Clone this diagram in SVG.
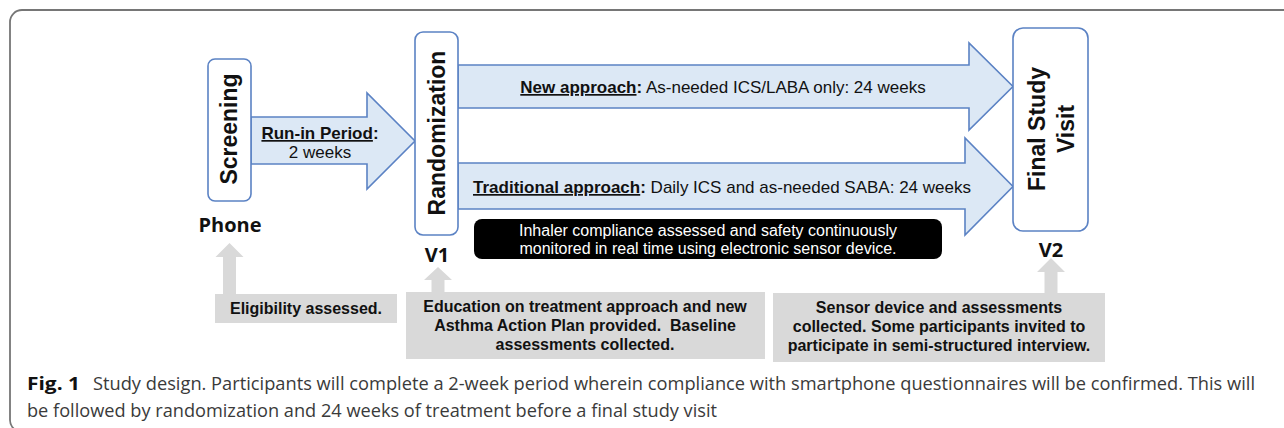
<svg xmlns="http://www.w3.org/2000/svg" width="1284" height="428" viewBox="0 0 1284 428">
  <style>
    .frame { fill: none; stroke: #767676; stroke-width: 1.8; }
    .stage { fill: #ffffff; stroke: #5b82c4; stroke-width: 1.6; }
    .flow { fill: #dce8f5; stroke: #5b82c4; stroke-width: 1.6; stroke-linejoin: miter; }
    .note { fill: #d9d9d9; }
    .lbl { font-family: "Liberation Sans", Arial, sans-serif; fill: #111111; }
    .b { font-weight: bold; }
    .big { font-size: 23px; font-weight: bold; }
    .arrowtxt { font-size: 17px; }
    .notetxt { font-size: 16px; font-weight: bold; }
    .visit { font-family: "Open Sans", "Liberation Sans", sans-serif; font-weight: bold; font-size: 20px; fill: #111111; }
    .cap { font-family: "Open Sans", "Liberation Sans", sans-serif; font-size: 18.5px; fill: #3a3a3a; }
    .u { text-decoration: underline; }
  </style>

  <!-- figure frame -->
  <rect class="frame" x="10" y="10" width="1292" height="422" rx="12"/>

  <!-- connectors: block arrows between stages -->
  <g id="connectors">
    <path id="arrow-runin" class="flow" d="M251,117 H367 V93 L415,141 L367,189 V164 H251 Z"/>
    <path id="arrow-new" class="flow" d="M458,65 H969 V43 L1013,86.5 L969,130 V108 H458 Z"/>
    <path id="arrow-traditional" class="flow" d="M458,163 H965 V138 L1013,186.5 L965,235 V209 H458 Z"/>
  </g>

  <!-- arrow labels -->
  <g id="label-runin" class="lbl arrowtxt" text-anchor="middle">
    <text x="320" y="139" class="b"><tspan class="u">Run-in Period</tspan>:</text>
    <text x="320" y="158">2 weeks</text>
  </g>
  <g id="label-new" class="lbl arrowtxt">
    <text x="723" y="93" text-anchor="middle"><tspan class="b u">New approach</tspan><tspan class="b">:</tspan> As-needed ICS/LABA only: 24 weeks</text>
  </g>
  <g id="label-traditional" class="lbl arrowtxt">
    <text x="722" y="193" text-anchor="middle"><tspan class="b u">Traditional approach</tspan><tspan class="b">:</tspan> Daily ICS and as-needed SABA: 24 weeks</text>
  </g>

  <!-- stage: screening -->
  <g id="node-screening">
    <rect class="stage" x="208" y="59" width="43" height="142" rx="7"/>
    <text class="lbl big" text-anchor="middle" transform="translate(237,129) rotate(-90)">Screening</text>
    <text class="visit" x="230" y="232" text-anchor="middle">Phone</text>
  </g>

  <!-- stage: randomization -->
  <g id="node-randomization">
    <rect class="stage" x="415" y="32" width="43" height="203" rx="8"/>
    <text class="lbl big" text-anchor="middle" transform="translate(445,133) rotate(-90)">Randomization</text>
    <text class="visit" x="437" y="262" text-anchor="middle">V1</text>
  </g>

  <!-- stage: final study visit -->
  <g id="node-final">
    <rect class="stage" x="1013" y="28" width="75" height="203" rx="10"/>
    <text class="lbl big" text-anchor="middle" transform="translate(1045,129) rotate(-90)">Final Study</text>
    <text class="lbl big" text-anchor="middle" transform="translate(1074,129) rotate(-90)">Visit</text>
    <text class="visit" x="1051" y="257" text-anchor="middle">V2</text>
  </g>

  <!-- monitoring banner -->
  <g id="node-monitoring">
    <rect x="474" y="219" width="468" height="40" rx="8" fill="#000000"/>
    <text class="lbl" x="708" y="236" text-anchor="middle" font-size="16" style="fill:#ffffff">Inhaler compliance assessed and safety continuously</text>
    <text class="lbl" x="708" y="254" text-anchor="middle" font-size="16" style="fill:#ffffff">monitored in real time using electronic sensor device.</text>
  </g>

  <!-- notes with pointers -->
  <g id="note-eligibility">
    <path class="note" d="M215,294 H223 V257 H215.5 L229.5,243 L243.5,257 H236 V294 H397 V323 H215 Z"/>
    <text class="lbl notetxt" x="306" y="314" text-anchor="middle">Eligibility assessed.</text>
  </g>
  <g id="note-education">
    <path class="note" d="M406,292 H431.5 V280 H424 L438,267 L452,280 H444.5 V292 H765 V359 H406 Z"/>
    <g class="lbl notetxt" text-anchor="middle">
      <text x="585" y="312">Education on treatment approach and new</text>
      <text x="585" y="331">Asthma Action Plan provided.&#160; Baseline</text>
      <text x="585" y="350">assessments collected.</text>
    </g>
  </g>
  <g id="note-sensor">
    <path class="note" d="M773,293 H1044.5 V272 H1037 L1051,258 L1065,272 H1057.5 V293 H1105 V362 H773 Z"/>
    <g class="lbl notetxt" text-anchor="middle">
      <text x="939" y="313">Sensor device and assessments</text>
      <text x="939" y="332">collected. Some participants invited to</text>
      <text x="939" y="351">participate in semi-structured interview.</text>
    </g>
  </g>

  <!-- caption -->
  <g id="caption">
    <text class="cap" x="27" y="390" font-weight="bold" font-size="19.5" textLength="53" lengthAdjust="spacingAndGlyphs" style="fill:#111111">Fig. 1</text>
    <text class="cap" x="93" y="390" textLength="1162" lengthAdjust="spacingAndGlyphs">Study design. Participants will complete a 2-week period wherein compliance with smartphone questionnaires will be confirmed. This will</text>
    <text class="cap" x="27" y="417" textLength="690" lengthAdjust="spacingAndGlyphs">be followed by randomization and 24 weeks of treatment before a final study visit</text>
  </g>
</svg>
